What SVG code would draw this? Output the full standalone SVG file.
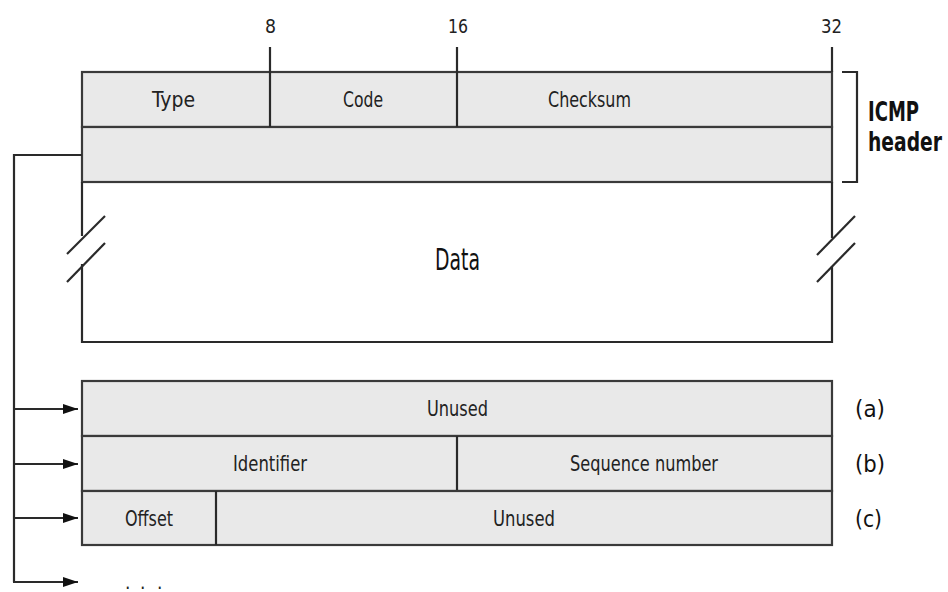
<svg xmlns="http://www.w3.org/2000/svg" width="948" height="592" viewBox="0 0 948 592">
<defs>
<marker id="arr" markerWidth="15" markerHeight="10" refX="15" refY="5" orient="auto" markerUnits="userSpaceOnUse">
<path d="M0,0 L15,5 L0,10 Z" fill="#111"/>
</marker>
<style>
.box{fill:#e9e9e9;stroke:#3a3a3a;stroke-width:2.2}
.ln{stroke:#2a2a2a;stroke-width:2.2;fill:none}
.t{font-family:"DejaVu Sans Condensed","DejaVu Sans","Liberation Sans",sans-serif;font-size:22px;fill:#222}
.n{font-family:"DejaVu Sans Condensed","DejaVu Sans","Liberation Sans",sans-serif;font-size:19px;fill:#222}
.b{font-family:"DejaVu Sans Condensed","DejaVu Sans","Liberation Sans",sans-serif;font-size:22px;font-weight:bold;fill:#111}
.l{font-family:"DejaVu Sans Condensed","DejaVu Sans","Liberation Sans",sans-serif;font-size:23px;fill:#111}
.d{font-family:"DejaVu Sans Condensed","DejaVu Sans","Liberation Sans",sans-serif;font-size:30px;fill:#111}
</style>
</defs>
<rect width="948" height="592" fill="#fff"/>
<g id="header">
<rect class="box" x="82" y="72" width="750" height="55"/>
<rect class="box" x="82" y="127" width="750" height="55"/>
<text class="t" x="152" y="107" textLength="43" lengthAdjust="spacingAndGlyphs">Type</text>
<text class="t" x="343" y="107" textLength="40" lengthAdjust="spacingAndGlyphs">Code</text>
<text class="t" x="548" y="107" textLength="83" lengthAdjust="spacingAndGlyphs">Checksum</text>
</g>
<g id="ticks">
<line class="ln" x1="270" y1="47" x2="270" y2="127"/>
<line class="ln" x1="457" y1="47" x2="457" y2="127"/>
<line class="ln" x1="832" y1="47" x2="832" y2="72"/>
<text class="n" x="265" y="33" textLength="11" lengthAdjust="spacingAndGlyphs">8</text>
<text class="n" x="448" y="33" textLength="20" lengthAdjust="spacingAndGlyphs">16</text>
<text class="n" x="821" y="33" textLength="21" lengthAdjust="spacingAndGlyphs">32</text>
</g>
<g id="bracket">
<path class="ln" d="M842,72 H857 V182 H842"/>
<text class="b" transform="translate(868,121) scale(1,1.2)" textLength="51" lengthAdjust="spacingAndGlyphs">ICMP</text>
<text class="b" transform="translate(868,151) scale(1,1.2)" textLength="74" lengthAdjust="spacingAndGlyphs">header</text>
</g>
<g id="data">
<path class="ln" d="M82,182 V236 M82,264 V342 H832 V266 M832,238 V182"/>
<line class="ln" x1="67" y1="254" x2="105" y2="216"/>
<line class="ln" x1="67" y1="282" x2="105" y2="243"/>
<line class="ln" x1="817" y1="255" x2="855" y2="216"/>
<line class="ln" x1="817" y1="282" x2="855" y2="243"/>
<text class="d" x="435" y="270" textLength="45" lengthAdjust="spacingAndGlyphs">Data</text>
</g>
<g id="row-a">
<rect class="box" x="82" y="381" width="750" height="55"/>
<text class="t" x="427" y="416" textLength="61" lengthAdjust="spacingAndGlyphs">Unused</text>
<text class="l" x="855" y="417" textLength="30" lengthAdjust="spacingAndGlyphs">(a)</text>
</g>
<g id="row-b">
<rect class="box" x="82" y="436" width="750" height="55"/>
<line class="ln" x1="457" y1="436" x2="457" y2="491"/>
<text class="t" x="233" y="471" textLength="74" lengthAdjust="spacingAndGlyphs">Identifier</text>
<text class="t" x="570" y="471" textLength="148" lengthAdjust="spacingAndGlyphs">Sequence number</text>
<text class="l" x="855" y="472" textLength="30" lengthAdjust="spacingAndGlyphs">(b)</text>
</g>
<g id="row-c">
<rect class="box" x="82" y="491" width="750" height="54"/>
<line class="ln" x1="216" y1="491" x2="216" y2="545"/>
<text class="t" x="125" y="526" textLength="48" lengthAdjust="spacingAndGlyphs">Offset</text>
<text class="t" x="493" y="526" textLength="62" lengthAdjust="spacingAndGlyphs">Unused</text>
<text class="l" x="855" y="527" textLength="27" lengthAdjust="spacingAndGlyphs">(c)</text>
</g>
<g id="more">
<text class="n" x="125 140 157" y="589">...</text>
</g>
<g id="connectors">
<path class="ln" d="M82,155 H14 V582"/>
<line class="ln" x1="14" y1="409" x2="78" y2="409" marker-end="url(#arr)"/>
<line class="ln" x1="14" y1="464" x2="78" y2="464" marker-end="url(#arr)"/>
<line class="ln" x1="14" y1="518" x2="78" y2="518" marker-end="url(#arr)"/>
<line class="ln" x1="13" y1="582" x2="78" y2="582" marker-end="url(#arr)"/>
</g>
</svg>
